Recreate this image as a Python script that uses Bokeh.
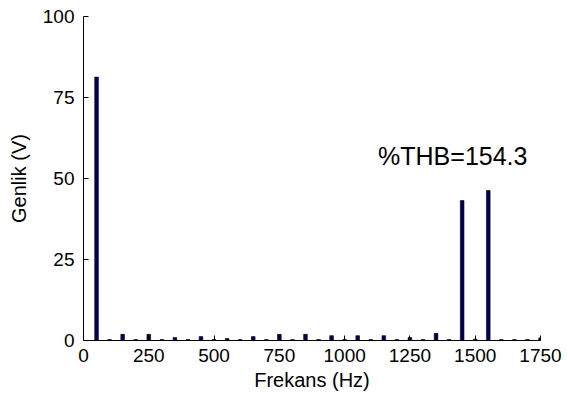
from bokeh.plotting import figure
from bokeh.models import ColumnDataSource, Range1d, FixedTicker, Label
from bokeh.embed import file_html
from bokeh.resources import INLINE

# Harmonic spectrum (50 Hz fundamental)
freqs = [50, 100, 150, 200, 250, 300, 350, 400, 450, 500, 550, 600, 650, 700,
         750, 800, 850, 900, 950, 1000, 1050, 1100, 1150, 1200, 1250, 1300,
         1350, 1400, 1450, 1500, 1550, 1600, 1650, 1700, 1750]
amplitudes = [81.3, 0.3, 1.9, 0.3, 1.9, 0.3, 0.9, 0.3, 1.2, 0.3, 0.6, 0.3, 1.2, 0.3,
              1.9, 0.3, 1.9, 0.3, 1.5, 0.3, 1.5, 0.3, 1.5, 0.3, 0.9, 0.3,
              2.2, 0.3, 43.2, 0.4, 46.3, 0.3, 0.3, 0.3, 0.8]
x_ticks = [0, 250, 500, 750, 1000, 1250, 1500, 1750]
y_ticks = [0, 25, 50, 75, 100]
thd_text = "%THB=154.3"

src = ColumnDataSource(data=dict(f=freqs, a=amplitudes))

p = figure(width=567, height=400, output_backend="svg", toolbar_location=None,
           x_range=Range1d(0, 1750), y_range=Range1d(0, 100),
           min_border_left=83, min_border_right=27, min_border_top=16,
           min_border_bottom=60)

p.vbar(x="f", top="a", width=14, source=src, fill_color="#00005a",
       line_color="#000000", line_width=0.6)

p.add_layout(Label(x=1128, y=57, text=thd_text, text_align="left",
                   text_baseline="middle", text_font="Liberation Sans",
                   text_font_size="25px", text_color="black"))

font = "Liberation Sans"
for ax in (p.xaxis[0], p.yaxis[0]):
    ax.axis_line_color = "black"
    ax.major_tick_in = 5
    ax.major_tick_out = 0
    ax.minor_tick_line_color = None
    ax.major_tick_line_color = "black"
    ax.major_label_text_font = font
    ax.major_label_text_font_size = "19px"
    ax.major_label_text_color = "black"
    ax.axis_label_text_font = font
    ax.axis_label_text_font_size = "20px"
    ax.axis_label_text_font_style = "normal"
    ax.axis_label_text_color = "black"

p.xaxis.ticker = FixedTicker(ticks=x_ticks)
p.yaxis.ticker = FixedTicker(ticks=y_ticks)
p.xaxis.axis_label = "Frekans (Hz)"
p.yaxis.axis_label = "Genlik (V)"
p.xaxis.major_label_standoff = 8
p.yaxis.major_label_standoff = 9
p.xaxis.axis_label_standoff = 4
p.yaxis.axis_label_standoff = 10

p.xgrid.grid_line_color = None
p.ygrid.grid_line_color = None
p.outline_line_color = None
p.background_fill_color = "white"
p.border_fill_color = "white"

open("out.html", "w").write(file_html(p, INLINE))
